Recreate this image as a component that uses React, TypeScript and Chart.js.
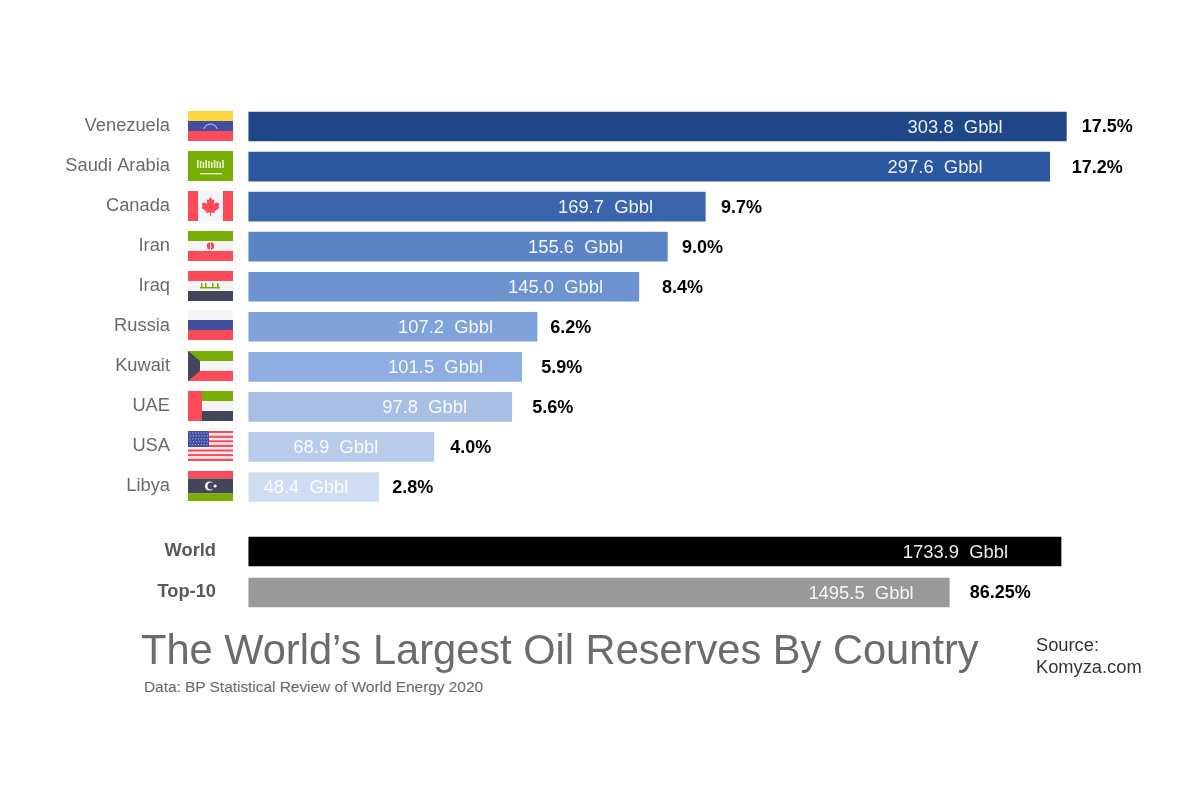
import React, { useEffect, useRef } from "react";
import { Chart, registerables } from "chart.js";

Chart.register(...registerables);

const countries = ["Venezuela", "Saudi Arabia", "Canada", "Iran", "Iraq", "Russia", "Kuwait", "UAE", "USA", "Libya"];
const reserves = [303.8, 297.6, 169.7, 155.6, 145.0, 107.2, 101.5, 97.8, 68.9, 48.4];
const shares = ["17.5%", "17.2%", "9.7%", "9.0%", "8.4%", "6.2%", "5.9%", "5.6%", "4.0%", "2.8%"];
const barColors = ["#1f4687", "#2b56a0", "#3a65ad", "#5a84c6", "#6c92d0", "#80a2da", "#8eade0", "#a7bfe5", "#b8cbea", "#d0dcf2"];

const totalsLabels = ["World", "Top-10"];
const totals = [1733.9, 1495.5];
const totalShares = ["", "86.25%"];
const totalColors = ["#000000", "#999999"];

// Hand-placed label offsets of the original layout (px from the bar end)
const valueInsets = [63.7, 67, 52.3, 44.3, 35.8, 43.9, 38.5, 44.6, 55.7, 30.4];
const shareGaps = [15.3, 22, 15.7, 14.7, 23.2, 13.1, 19.5, 20.4, 16.3, 13.6];
const totalInsets = [53, 35.6];
const totalGaps = [0, 20.5];

const FONT = '"Liberation Sans", Arial, sans-serif';
const RED = "#fb4a58";
const GREEN = "#77ae00";
const DARK = "#43455a";
const PALE = "#f4f4f6";
const BLUE = "#414e9f";

type C = CanvasRenderingContext2D;

function bands(ctx: C, x: number, y: number, w: number, h: number, colors: string[]) {
  colors.forEach((c, i) => {
    ctx.fillStyle = c;
    ctx.fillRect(x, y + (h * i) / colors.length, w, h / colors.length);
  });
}

const flags: Record<string, (ctx: C, x: number, y: number, w: number, h: number) => void> = {
  Venezuela(ctx, x, y, w, h) {
    bands(ctx, x, y, w, h, ["#fcd73f", BLUE, RED]);
    ctx.strokeStyle = "#cfd3ee";
    ctx.lineWidth = 1;
    ctx.beginPath();
    ctx.arc(x + w / 2, y + h / 2 + 5, 7, Math.PI * 1.1, Math.PI * 1.9);
    ctx.stroke();
  },
  "Saudi Arabia"(ctx, x, y, w, h) {
    ctx.fillStyle = GREEN;
    ctx.fillRect(x, y, w, h);
    ctx.fillStyle = "#e8f2d0";
    for (let i = 0; i < 10; i++) ctx.fillRect(x + 9 + i * 2.8, y + 9 + (i % 3), 1.6, 8 - (i % 3));
    ctx.fillRect(x + 12, y + 22, 22, 1.4);
  },
  Canada(ctx, x, y, w, h) {
    ctx.fillStyle = PALE;
    ctx.fillRect(x, y, w, h);
    ctx.fillStyle = RED;
    ctx.fillRect(x, y, 10, h);
    ctx.fillRect(x + w - 10, y, 10, h);
    const cx = x + w / 2;
    const t = y + 6;
    const pts: [number, number][] = [[0, 0], [2, 3], [4, 2.5], [3.2, 7], [5.5, 5.5], [9, 6.5], [8, 9.5], [9, 11], [4, 14.5], [4.5, 16], [0.6, 15.5], [0.6, 19], [-0.6, 19], [-0.6, 15.5], [-4.5, 16], [-4, 14.5], [-9, 11], [-8, 9.5], [-9, 6.5], [-5.5, 5.5], [-3.2, 7], [-4, 2.5], [-2, 3]];
    ctx.beginPath();
    pts.forEach(([a, b], i) => (i ? ctx.lineTo(cx + a, t + b) : ctx.moveTo(cx + a, t + b)));
    ctx.closePath();
    ctx.fill();
  },
  Iran(ctx, x, y, w, h) {
    bands(ctx, x, y, w, h, [GREEN, PALE, RED]);
    ctx.fillStyle = RED;
    ctx.beginPath();
    ctx.arc(x + w / 2, y + h / 2, 3.8, 0, Math.PI * 2);
    ctx.fill();
    ctx.fillStyle = PALE;
    ctx.fillRect(x + w / 2 - 0.5, y + h / 2 - 4, 1, 8);
  },
  Iraq(ctx, x, y, w, h) {
    bands(ctx, x, y, w, h, [RED, PALE, DARK]);
    ctx.fillStyle = GREEN;
    ctx.fillRect(x + 12, y + h / 2 + 1, 20, 1.5);
    [13, 17, 24, 29].forEach((d) => ctx.fillRect(x + d, y + h / 2 - 3, 1.5, 4));
  },
  Russia(ctx, x, y, w, h) {
    bands(ctx, x, y - 1, w, h, [PALE, BLUE, RED]);
  },
  Kuwait(ctx, x, y, w, h) {
    bands(ctx, x, y, w, h, [GREEN, PALE, RED]);
    ctx.fillStyle = DARK;
    ctx.beginPath();
    ctx.moveTo(x, y);
    ctx.lineTo(x + 12, y + 10);
    ctx.lineTo(x + 12, y + 20);
    ctx.lineTo(x, y + h);
    ctx.closePath();
    ctx.fill();
  },
  UAE(ctx, x, y, w, h) {
    bands(ctx, x + 14, y, w - 14, h, [GREEN, PALE, DARK]);
    ctx.fillStyle = RED;
    ctx.fillRect(x, y, 14, h);
  },
  USA(ctx, x, y, w, h) {
    bands(ctx, x, y, w, h, Array.from({ length: 13 }, (_, i) => (i % 2 ? "#fbeef0" : RED)));
    ctx.fillStyle = BLUE;
    ctx.fillRect(x, y, 21, 16);
    ctx.fillStyle = "#c9cdea";
    for (let r = 0; r < 5; r++) for (let c = 0; c < 7; c++) ctx.fillRect(x + 1.5 + c * 2.8 + (r % 2) * 0.7, y + 1.5 + r * 2.9, 1, 1);
  },
  Libya(ctx, x, y, w, h) {
    bands(ctx, x, y, w, h, [RED, DARK, DARK, GREEN]);
    const cx = x + w / 2 - 1;
    const cy = y + h / 2;
    ctx.fillStyle = "#ffffff";
    ctx.beginPath();
    ctx.arc(cx, cy, 4.5, 0, Math.PI * 2);
    ctx.fill();
    ctx.fillStyle = DARK;
    ctx.beginPath();
    ctx.arc(cx + 1.6, cy, 3.6, 0, Math.PI * 2);
    ctx.fill();
    ctx.fillStyle = "#ffffff";
    ctx.beginPath();
    ctx.arc(cx + 5.6, cy, 1.6, 0, Math.PI * 2);
    ctx.fill();
  },
};

function barLabels(values: number[], pcts: string[], insets: number[], gaps: number[]) {
  return {
    id: "barLabels",
    afterDatasetsDraw(chart: any) {
      const { ctx, scales } = chart;
      ctx.save();
      ctx.textBaseline = "middle";
      values.forEach((v, i) => {
        const end = scales.x.getPixelForValue(v);
        const cy = scales.y.getPixelForValue(i) + 1;
        ctx.textAlign = "right";
        ctx.fillStyle = "rgba(255,255,255,0.92)";
        ctx.font = `18.4px ${FONT}`;
        ctx.fillText(`${v.toFixed(1)}  Gbbl`, end - insets[i], cy);
        if (pcts[i]) {
          ctx.textAlign = "left";
          ctx.fillStyle = "#000000";
          ctx.font = `bold 18px ${FONT}`;
          ctx.fillText(pcts[i], end + gaps[i], cy);
        }
      });
      ctx.restore();
    },
  };
}

const flagPlugin = {
  id: "flags",
  afterDraw(chart: any) {
    const { ctx, scales, chartArea } = chart;
    countries.forEach((name, i) => {
      const cy = scales.y.getPixelForValue(i);
      flags[name](ctx, chartArea.left - 60.4, Math.round(cy) - 16, 45, 30);
    });
  },
};

function options(xMax: number, rightPad: number, top: number, bottom: number, tickPad: number, font: any, color: string) {
  return {
    indexAxis: "y" as const,
    animation: false as const,
    responsive: false,
    layout: { padding: { top, bottom, left: 0, right: rightPad } },
    plugins: { legend: { display: false }, tooltip: { enabled: false } },
    scales: {
      x: { display: false, min: 0, max: xMax },
      y: {
        afterFit: (s: any) => {
          s.width = 248.4;
          s.paddingTop = 0;
          s.paddingBottom = 0;
        },
        border: { display: false },
        grid: { display: false, drawTicks: false },
        ticks: { padding: tickPad, font, color, autoSkip: false, labelOffset: -1 },
      },
    },
  };
}

export default function App() {
  const topRef = useRef<HTMLCanvasElement>(null);
  const bottomRef = useRef<HTMLCanvasElement>(null);

  useEffect(() => {
    const top = new Chart(topRef.current!, {
      type: "bar",
      data: {
        labels: countries,
        datasets: [{ data: reserves, backgroundColor: barColors, barThickness: 29 }],
      },
      options: options(320, 90, 6.5, 3, 78.4, { family: FONT, size: 18.3 }, "#6a6a6a"),
      plugins: [barLabels(reserves, shares, valueInsets, shareGaps), flagPlugin],
    } as any);
    const bottom = new Chart(bottomRef.current!, {
      type: "bar",
      data: {
        labels: totalsLabels,
        datasets: [{ data: totals, backgroundColor: totalColors, barThickness: 29 }],
      },
      options: options(1800, 108, 11, 17, 32.4, { family: FONT, size: 18.3, weight: "bold" }, "#595959"),
      plugins: [barLabels(totals, totalShares, totalInsets, totalGaps)],
    } as any);
    return () => {
      top.destroy();
      bottom.destroy();
    };
  }, []);

  return (
    <div style={{ position: "absolute", left: 0, top: 0, width: 1200, height: 800, background: "#fff", overflow: "hidden", fontFamily: FONT }}>
      <canvas ref={topRef} width={1200} height={410} style={{ position: "absolute", left: 0, top: 100 }} />
      <canvas ref={bottomRef} width={1200} height={110} style={{ position: "absolute", left: 0, top: 520 }} />
      <div style={{ position: "absolute", left: 141, top: 627, fontSize: 41.6, lineHeight: "46px", color: "#6b6b6b", whiteSpace: "nowrap" }}>
        The World’s Largest Oil Reserves By Country
      </div>
      <div style={{ position: "absolute", left: 144, top: 678, fontSize: 15.4, lineHeight: "18px", color: "#666", whiteSpace: "nowrap" }}>
        Data: BP Statistical Review of World Energy 2020
      </div>
      <div style={{ position: "absolute", left: 1036, top: 634, fontSize: 18.3, lineHeight: "22px", color: "#333", whiteSpace: "nowrap" }}>
        Source:
        <br />
        Komyza.com
      </div>
    </div>
  );
}
